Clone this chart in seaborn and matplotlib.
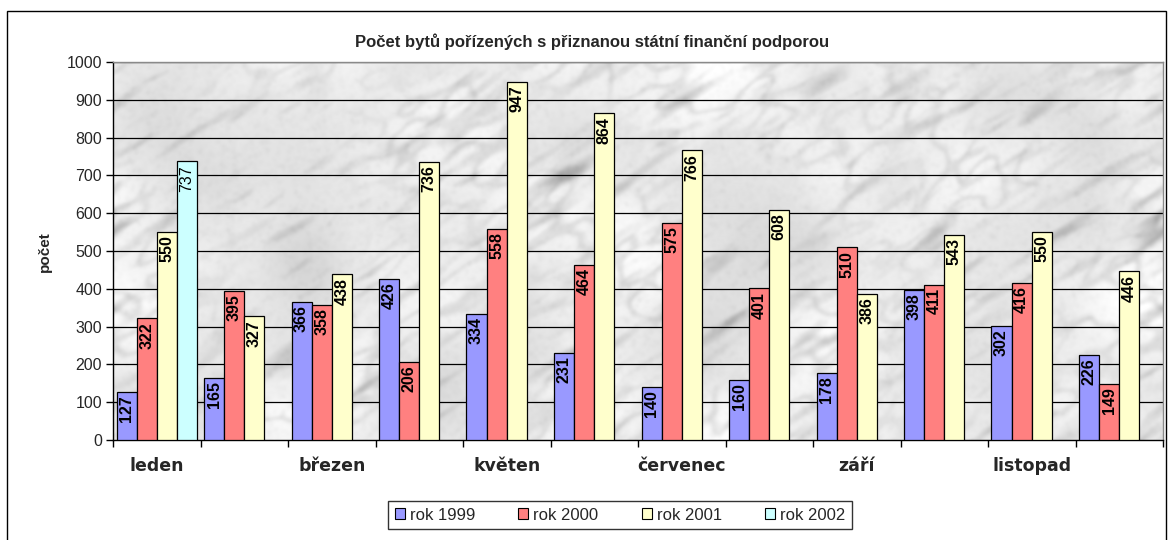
import numpy as np
import pandas as pd
import matplotlib
matplotlib.use("Agg")
import matplotlib.pyplot as plt
from matplotlib.patches import Rectangle, Patch
import seaborn as sns

months = ["leden", "únor", "březen", "duben", "květen", "červen",
          "červenec", "srpen", "září", "říjen", "listopad", "prosinec"]
rok_1999 = [127, 165, 366, 426, 334, 231, 140, 160, 178, 398, 302, 226]
rok_2000 = [322, 395, 358, 206, 558, 464, 575, 401, 510, 411, 416, 149]
rok_2001 = [550, 327, 438, 736, 947, 864, 766, 608, 386, 543, 550, 446]
rok_2002 = [737] + [np.nan] * 11
series_names = ["rok 1999", "rok 2000", "rok 2001", "rok 2002"]
series_colors = ["#9999FF", "#FF8080", "#FFFFCC", "#CCFFFF"]
yticks = list(range(0, 1001, 100))

df = pd.DataFrame({
    "měsíc": months * 4,
    "řada": np.repeat(series_names, len(months)),
    "počet": rok_1999 + rok_2000 + rok_2001 + rok_2002,
})

sns.set_theme(style="white")
plt.rcParams["font.family"] = ["Liberation Sans", "DejaVu Sans"]

fig = plt.figure(figsize=(11.69, 5.40), dpi=100)
fig.patch.set_facecolor("white")
ax = fig.add_axes([113 / 1169, 1 - 440 / 540, 1050 / 1169, 378 / 540])

# marble-like background texture for the plot area
rng = np.random.default_rng(3)
h, w = 380, 1050
fy = np.fft.fftfreq(h)[:, None]
fx = np.fft.fftfreq(w)[None, :]


def blur(a, s_long, s_short, dx=1.0, dy=-0.65):
    # anisotropic gaussian blur, elongated along the (dx, dy) direction
    n = np.hypot(dx, dy)
    fu = (fx * dx + fy * dy) / n
    fv = (-fx * dy + fy * dx) / n
    g = np.exp(-2 * np.pi ** 2 * ((s_long * fu) ** 2 + (s_short * fv) ** 2))
    return np.real(np.fft.ifft2(np.fft.fft2(a) * g))


def norm(a):
    return (a - a.mean()) / a.std()


cloud = norm(blur(rng.standard_normal((h, w)), 30, 30))
mottle = norm(blur(rng.standard_normal((h, w)), 12, 6))
streak = norm(blur(rng.standard_normal((h, w)), 22, 4))
streak2 = norm(blur(rng.standard_normal((h, w)), 12, 2.5))
speck = norm(blur(rng.standard_normal((h, w)), 1.2, 1.2))
veins = np.exp(-(mottle ** 2) / 0.2)
tex = (0.935 + 0.03 * cloud
       - 0.07 * np.clip(streak - 0.8, 0, None)
       - 0.06 * np.clip(streak2 - 1.2, 0, None)
       - 0.05 * veins * np.clip(cloud + 0.8, 0, 2)
       - 0.02 * np.abs(speck))
tex = blur(tex, 1.5, 1.5)
tex = np.clip(tex, 0.62, 1.0)
ax.imshow(tex, extent=(-0.5, 11.5, 0, 1000), aspect="auto", cmap="gray",
          vmin=0, vmax=1, zorder=0, interpolation="bilinear")

sns.barplot(data=df, x="měsíc", y="počet", hue="řada", order=months,
            hue_order=series_names, palette=series_colors, width=0.92,
            edgecolor="black", linewidth=0.9, saturation=1, ax=ax, zorder=3,
            errorbar=None)

ax.set_xlim(-0.5, 11.5)
ax.set_ylim(0, 1000)
ax.set_yticks(yticks)
ax.set_yticklabels([str(t) for t in yticks], fontsize=11.5)
for t in yticks[1:]:
    ax.axhline(t, color="black", linewidth=0.9, zorder=1)

ax.set_xticks(range(len(months)))
ax.set_xticklabels([m if i % 2 == 0 else "" for i, m in enumerate(months)],
                   fontsize=12.5, fontweight="bold", family="DejaVu Sans")
ax.set_xticks(np.arange(-0.5, 12, 1.0), minor=True)
ax.tick_params(axis="x", which="major", length=0, pad=12)
ax.tick_params(axis="x", which="minor", length=5, width=1, color="black",
               direction="out", bottom=True)
ax.tick_params(axis="y", length=5, width=1, color="black", direction="out",
               left=True, pad=3)
ax.set_xlabel("")
ax.set_ylabel("")
for side in ["left", "bottom"]:
    ax.spines[side].set_color("black")
    ax.spines[side].set_linewidth(1.0)
for side in ["top", "right"]:
    ax.spines[side].set_color("#8a8a8a")
    ax.spines[side].set_linewidth(1.0)
if ax.get_legend() is not None:
    ax.get_legend().remove()

# value labels inside the top of each bar
for name, cont in zip(series_names, ax.containers):
    for bar in cont:
        hgt = bar.get_height()
        if not np.isfinite(hgt) or hgt <= 0:
            continue
        ax.annotate(f"{int(round(hgt))}",
                    (bar.get_x() + bar.get_width() / 2, hgt),
                    xytext=(0, -2.5), textcoords="offset points",
                    rotation=90, ha="center", va="top", fontsize=11.5,
                    fontweight="normal" if name == "rok 2002" else "bold",
                    color="black", zorder=5)

fig.text(592 / 1169, 1 - 42 / 540, "Počet bytů pořízených s přiznanou státní finanční podporou",
         ha="center", va="center", fontsize=12, fontweight="bold")
fig.text(45 / 1169, 1 - 252 / 540, "počet", rotation=90, ha="center",
         va="center", fontsize=11, fontweight="bold")

handles = [Patch(facecolor=c, edgecolor="black", linewidth=0.8) for c in series_colors]
leg = fig.legend(handles, series_names, loc="center", ncol=4,
                 bbox_to_anchor=(620 / 1169, 1 - 515 / 540), fontsize=12,
                 frameon=True, fancybox=False, edgecolor="black",
                 handlelength=0.6, handleheight=0.6, handletextpad=0.3,
                 columnspacing=2.6, borderpad=0.4)
leg.get_frame().set_linewidth(1.0)

# outer chart border
fig.patches.append(Rectangle((7 / 1169, -0.05), 1159 / 1169, 1.05 - 11 / 540,
                             transform=fig.transFigure, fill=False,
                             edgecolor="black", linewidth=1.0))

fig.savefig("out.png", dpi=100)
